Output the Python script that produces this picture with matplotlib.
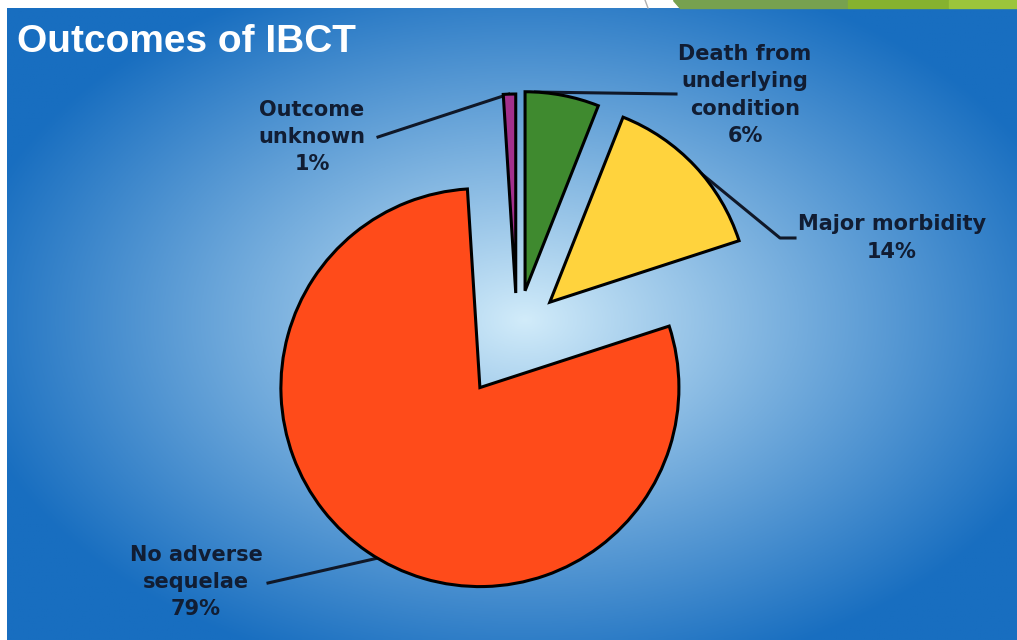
import numpy as np
import matplotlib.pyplot as plt

# Data
labels = ["Death from\nunderlying\ncondition", "Major morbidity", "No adverse\nsequelae", "Outcome\nunknown"]
values = [6, 14, 79, 1]
colors = ["#3f8a2f", "#ffd33d", "#ff4b1a", "#a2308c"]
explode = [43, 45, 66, 40]   # offsets in pixels (radius is in pixels too)

W, H = 1017, 640
fig = plt.figure(figsize=(W / 100, H / 100), dpi=100, facecolor="white")
ax = fig.add_axes([0, 0, 1, 1])

# background: blue panel with a light glow behind the pie
xx, yy = np.meshgrid(np.linspace(7, W, 400), np.linspace(0, 632, 260))
d = np.sqrt(((xx - 525) / 570) ** 2 + ((yy - 320) / 370) ** 2)
t = np.clip(d, 0, 1) ** 0.95
light = np.array([210, 236, 250]) / 255
dark = np.array([24, 110, 192]) / 255
grad = light[None, None, :] * (1 - t[..., None]) + dark[None, None, :] * t[..., None]
ax.imshow(grad, extent=(7, W, 0, 632), origin="lower", aspect="auto", zorder=0)

# slide decoration at top right
ax.fill([673, 848, 848, 680], [640, 640, 632, 632], color="#77a14f", zorder=1)
ax.fill([848, 949, 949, 848], [640, 640, 632, 632], color="#86b22f", zorder=1)
ax.fill([949, W, W, 949], [640, 640, 632, 632], color="#9cc53b", zorder=1)
ax.plot([645, 648], [640, 632], color="#b0b0b0", lw=1, zorder=1)

wedges, _ = ax.pie(values, colors=colors, explode=explode, startangle=90,
                   counterclock=False, center=(517, 307), radius=199,
                   wedgeprops=dict(edgecolor="black", linewidth=2.2))
for w in wedges:
    w.set_zorder(3)


def on_arc(w, ang, rf=1.0):
    a = np.deg2rad(ang)
    return w.center[0] + w.r * rf * np.cos(a), w.center[1] + w.r * rf * np.sin(a)


txt = dict(color="#111d33", fontsize=15, fontweight="bold", ha="center",
           va="center", linespacing=1.45, family="DejaVu Sans", zorder=4)
lk = dict(color="#101828", lw=2.2, zorder=2)

# Death from underlying condition
x0, y0 = on_arc(wedges[0], 87)
ax.plot([x0, 676], [y0, 546], **lk)
ax.text(745, 545, labels[0] + "\n" + f"{values[0]}%", **txt)

# Major morbidity
x0, y0 = on_arc(wedges[1], 40)
ax.plot([x0, 780, 795], [y0, 402, 402], **lk)
ax.text(892, 402, labels[1] + "\n" + f"{values[1]}%", **txt)

# No adverse sequelae
x0, y0 = on_arc(wedges[2], 239)
ax.plot([x0, 268], [y0, 57], **lk)
ax.text(196, 58, labels[2] + "\n" + f"{values[2]}%", **txt)

# Outcome unknown
x0, y0 = on_arc(wedges[3], 92)
ax.plot([x0, 378], [y0, 503], **lk)
ax.text(312, 503, labels[3] + "\n" + f"{values[3]}%", **txt)

ax.text(17, 598, "Outcomes of IBCT", color="white", fontsize=28, fontweight="bold",
        family=["Liberation Sans", "DejaVu Sans"], ha="left", va="center", zorder=4)

ax.set_xlim(0, W)
ax.set_ylim(0, H)
ax.set_aspect("auto")
ax.axis("off")

fig.savefig("out.png", dpi=100, facecolor="white")
